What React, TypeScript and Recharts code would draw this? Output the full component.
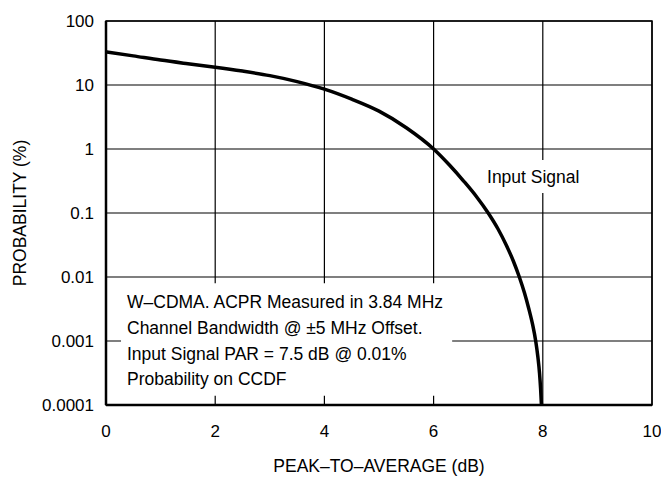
import { LineChart, Line, XAxis, YAxis, CartesianGrid, ReferenceArea } from 'recharts';

const peakToAverage = [
  0, 0.5, 1, 1.5, 2, 2.5, 3, 3.5, 4, 4.5, 5, 5.5, 6,
  6.29, 6.55, 6.79, 7.0, 7.18, 7.33, 7.46, 7.57, 7.665, 7.745, 7.815, 7.87, 7.91, 7.94, 7.96, 7.975,
];
const probability = [
  33, 28.5, 24.5, 21.5, 19, 16.5, 14, 11.3, 8.6, 6.0, 3.9, 2.15, 1,
  0.562, 0.316, 0.178, 0.1, 0.0562, 0.0316, 0.0178, 0.01, 0.00562, 0.00316, 0.00178, 0.001, 0.000562, 0.000316, 0.000178, 0.0001,
];

const xTicks = [0, 2, 4, 6, 8, 10];
const yTicks = [0.0001, 0.001, 0.01, 0.1, 1, 10, 100];
const yTickLabels = ['0.0001', '0.001', '0.01', '0.1', '1', '10', '100'];

const noteLines = [
  'W–CDMA. ACPR Measured in 3.84 MHz',
  'Channel Bandwidth @ ±5 MHz Offset.',
  'Input Signal PAR = 7.5 dB @ 0.01%',
  'Probability on CCDF',
];

const FONT = "'Liberation Sans', Arial, sans-serif";

const chartData = peakToAverage.map((x, i) => ({ x, p: probability[i] }));

function NoteLabel(props: any) {
  const { x, y } = props.viewBox;
  return (
    <text fontFamily={FONT} fontSize={17.5} fill="#000">
      {noteLines.map((line, i) => (
        <tspan key={i} x={x + 6} y={y + 25 + i * 25.7}>
          {line}
        </tspan>
      ))}
    </text>
  );
}

function SignalLabel(props: any) {
  const { x, y, width, height } = props.viewBox;
  return (
    <text x={x + width / 2} y={y + height / 2 + 6} textAnchor="middle" fontFamily={FONT} fontSize={17.5} fill="#000">
      Input Signal
    </text>
  );
}

function YTitle(props: any) {
  const { y, height } = props.viewBox;
  const cx = 20;
  const cy = y + height / 2;
  return (
    <text x={cx} y={cy} transform={`rotate(-90, ${cx}, ${cy})`} textAnchor="middle" dominantBaseline="central" fontFamily={FONT} fontSize={17.5} fill="#000">
      PROBABILITY (%)
    </text>
  );
}

function XTitle(props: any) {
  const { x, width } = props.viewBox;
  return (
    <text x={x + width / 2} y={472} textAnchor="middle" fontFamily={FONT} fontSize={17.5} fill="#000">
      PEAK–TO–AVERAGE (dB)
    </text>
  );
}

export default function App() {
  return (
    <div style={{ position: 'absolute', left: 0, top: 0, background: '#fff' }}>
      <LineChart width={661} height={479} data={chartData} margin={{ top: 21, right: 9, bottom: 0, left: 0 }}>
        <CartesianGrid stroke="#000" strokeWidth={1.2} />
        <XAxis
          type="number"
          dataKey="x"
          domain={[0, 10]}
          ticks={xTicks}
          height={74}
          tickLine={false}
          tickSize={0}
          tickMargin={20}
          axisLine={{ stroke: '#000', strokeWidth: 2.5 }}
          tick={{ fontFamily: FONT, fontSize: 17, fill: '#000' }}
          label={<XTitle />}
        />
        <YAxis
          type="number"
          scale="log"
          domain={[0.0001, 100]}
          allowDataOverflow
          ticks={yTicks}
          width={106}
          tickLine={false}
          tickSize={0}
          tickMargin={12}
          axisLine={{ stroke: '#000', strokeWidth: 2.5 }}
          tick={{ fontFamily: FONT, fontSize: 17, fill: '#000' }}
          tickFormatter={(v: number) => yTickLabels[yTicks.indexOf(v)] ?? String(v)}
          label={<YTitle />}
        />
        <ReferenceArea x1={0.275} x2={6.34} y1={0.00014} y2={0.008} fill="#fff" fillOpacity={1} stroke="none" label={<NoteLabel />} />
        <ReferenceArea x1={6.95} x2={8.7} y1={0.205} y2={0.673} fill="#fff" fillOpacity={1} stroke="none" label={<SignalLabel />} />
        <Line type="monotone" dataKey="p" stroke="#000" strokeWidth={3.5} dot={false} isAnimationActive={false} />
        <ReferenceArea x1={0} x2={10} y1={0.0001} y2={100} fill="none" stroke="#000" strokeWidth={1.5} />
      </LineChart>
    </div>
  );
}
